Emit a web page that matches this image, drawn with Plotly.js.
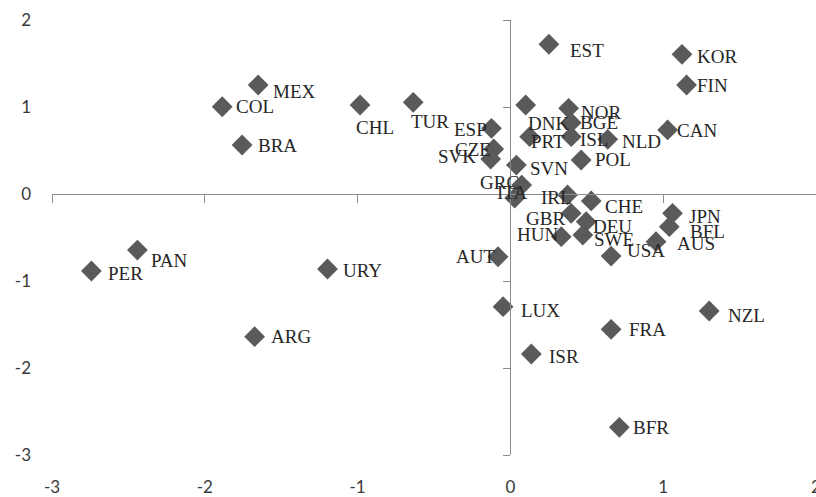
<!DOCTYPE html>
<html>
<head>
<meta charset="utf-8">
<script src="https://cdn.plot.ly/plotly-3.0.1.min.js"></script>
<style>
html,body{margin:0;padding:0;background:#fff;}
#chart{width:816px;height:497px;}
</style>
</head>
<body>
<div id="chart"></div>
<script>
// Country codes, and coordinates
var countries = ["EST","KOR","FIN","MEX","COL","CHL","TUR","DNK","NOR","BGE","ISL","PRT","NLD","CAN","BRA",
  "ESP","CZE","SVK","SVN","POL","GRC","ITA","IRL","CHE","GBR","DEU","HUN","SWE","USA","JPN","BFL","AUS",
  "AUT","LUX","ISR","FRA","NZL","BFR","PER","PAN","URY","ARG"];
var xValues = [0.252,1.123,1.153,-1.651,-1.886,-0.984,-0.636,0.100,0.381,0.398,0.398,0.126,0.637,1.029,-1.756,
  -0.124,-0.109,-0.129,0.039,0.463,0.074,0.028,0.374,0.529,0.398,0.496,0.333,0.474,0.659,1.061,1.040,0.953,
  -0.081,-0.048,0.137,0.659,1.301,0.713,-2.742,-2.441,-1.197,-1.674];
var yValues = [1.721,1.606,1.253,1.253,1.003,1.023,1.054,1.023,0.985,0.820,0.659,0.659,0.629,0.736,0.563,
  0.755,0.517,0.402,0.333,0.391,0.103,-0.046,-0.011,-0.080,-0.222,-0.318,-0.491,-0.471,-0.713,-0.222,-0.376,-0.548,
  -0.721,-1.295,-1.839,-1.555,-1.345,-2.682,-0.885,-0.644,-0.862,-1.640];

// Label placement (style only): anchor side and pixel nudges (right, down)
var labelAnchor = ["left","left","left","left","left","left","left","left","left","left","left","left","left","left","left",
  "right","right","right","left","left","right","center","right","left","right","left","right","left","left","left","left","left",
  "right","left","left","left","left","left","left","left","left","left"];
var labelDx = [20,14,9,14,13,-5,-3,1,11,8,8,0,13,8,15,
  -3,-2,-14,13,13,-2,-3,5,13,-5,6,-2,10,15,15,20,20,
  -2,17,17,17,18,13,16,13,14,15];
var labelDy = [6,2,1,7,0,22,19,18,4,0,3,5,2,1,0,
  1,0,-3,3,0,-3,-6,3,6,5,5,-2,5,-6,3,5,2,
  0,4,3,0,4,0,2,10,2,0];

var tickValues = [-3,-2,-1,0,1,2];
var tickLabels = ["-3","-2","-1","0","1","2"];

var axisGray = "#8c8c8c";
var tickFont = {family:"Lato, 'Open Sans', sans-serif", size:17, color:"#3a3a3a"};
var labelFont = {family:"'Liberation Serif', serif", size:19, color:"#262626"};

var trace = {
  type:"scatter", mode:"markers",
  x:xValues, y:yValues, text:countries,
  marker:{symbol:"diamond", size:16, color:"#5a5a5a"},
  cliponaxis:false, hoverinfo:"skip", showlegend:false
};
// empty trace so that the crossing axes (x2/y2) get drawn
var axisHolder = {type:"scatter", mode:"markers", x:[], y:[], xaxis:"x2", yaxis:"y2", showlegend:false, hoverinfo:"skip"};

var annotations = countries.map(function(c, i){
  return {x:xValues[i], y:yValues[i], xref:"x", yref:"y", text:c, showarrow:false,
    xanchor:labelAnchor[i], yanchor:"middle", xshift:labelDx[i], yshift:-labelDy[i],
    font:labelFont, borderpad:0};
});

var layout = {
  width:816, height:497,
  margin:{l:52, r:0, t:20, b:42, pad:0},
  paper_bgcolor:"#fff", plot_bgcolor:"#fff",
  showlegend:false,
  annotations:annotations,
  xaxis:{range:[-3,2], domain:[0,1], anchor:"y", showline:false, zeroline:false, showgrid:false,
    ticks:"", tickmode:"array", tickvals:tickValues, ticktext:tickLabels, tickfont:tickFont, ticklabelstandoff:20,
    ticklabeloverflow:"allow"},
  yaxis:{range:[-3,2], domain:[0,1], anchor:"x", showline:false, zeroline:false, showgrid:false,
    ticks:"", tickmode:"array", tickvals:tickValues, ticktext:tickLabels, tickfont:tickFont, ticklabelstandoff:20},
  xaxis2:{range:[-3,2], overlaying:"x", anchor:"free", position:0.6, showline:true, linecolor:axisGray, linewidth:1,
    ticks:"outside", ticklen:8, tickcolor:axisGray, tickwidth:1, tickmode:"array", tickvals:tickValues,
    showticklabels:false, showgrid:false, zeroline:false},
  yaxis2:{range:[-3,2], overlaying:"y", anchor:"free", position:0.6, side:"left", showline:true, linecolor:axisGray, linewidth:1,
    ticks:"outside", ticklen:7, tickcolor:axisGray, tickwidth:1, tickmode:"array", tickvals:tickValues,
    showticklabels:false, showgrid:false, zeroline:false}
};

Plotly.newPlot("chart", [axisHolder, trace], layout, {staticPlot:true, displayModeBar:false});
</script>
</body>
</html>
